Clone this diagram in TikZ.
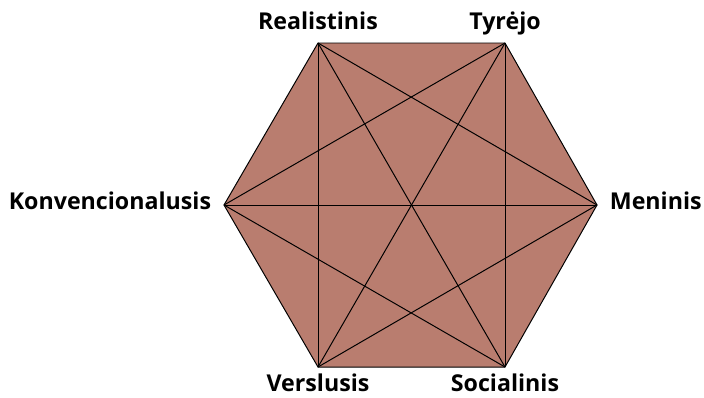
\documentclass[tikz,border=0pt]{standalone}
\usepackage{fontspec}
\setmainfont{Open Sans}
\usepackage{xcolor}
\usetikzlibrary{positioning}
\definecolor{hexfill}{RGB}{185,125,111}

\begin{document}
\begin{tikzpicture}[
  x=0.025cm, y=-0.025cm,
  node distance=1.6mm and 2.8mm,
  lab/.style={font=\fontsize{16.5}{19}\selectfont\bfseries, inner sep=1pt, text height=12pt, text depth=0pt},
  edge/.style={draw=black, line width=0.7pt}]
  \useasboundingbox (0,0) rectangle (704,397);
  \coordinate (real) at (318,43);
  \coordinate (tyr) at (505,43);
  \coordinate (men) at (597,205);
  \coordinate (soc) at (505,367);
  \coordinate (vers) at (318,367);
  \coordinate (konv) at (224,205);
  \fill[hexfill] (real) -- (tyr) -- (men) -- (soc) -- (vers) -- (konv) -- cycle;
  \draw[edge] (real) -- (tyr) -- (men) -- (soc) -- (vers) -- (konv) -- cycle;
  \draw[edge] (real) -- (men); \draw[edge] (real) -- (soc); \draw[edge] (real) -- (vers);
  \draw[edge] (tyr) -- (soc); \draw[edge] (tyr) -- (vers); \draw[edge] (tyr) -- (konv);
  \draw[edge] (men) -- (vers); \draw[edge] (men) -- (konv); \draw[edge] (soc) -- (konv);
  \node[lab, above=2.9mm of real] (lreal) {Realistinis};
  \node[lab, above=2.9mm of tyr] (ltyr) {Tyrėjo};
  \node[lab, right=of men, yshift=2.5pt] (lmen) {Meninis};
  \node[lab, below=of soc] (lsoc) {Socialinis};
  \node[lab, below=of vers] (lvers) {Verslusis};
  \node[lab, left=of konv, yshift=2.5pt] (lkonv) {Konvencionalusis};
\end{tikzpicture}
\end{document}
